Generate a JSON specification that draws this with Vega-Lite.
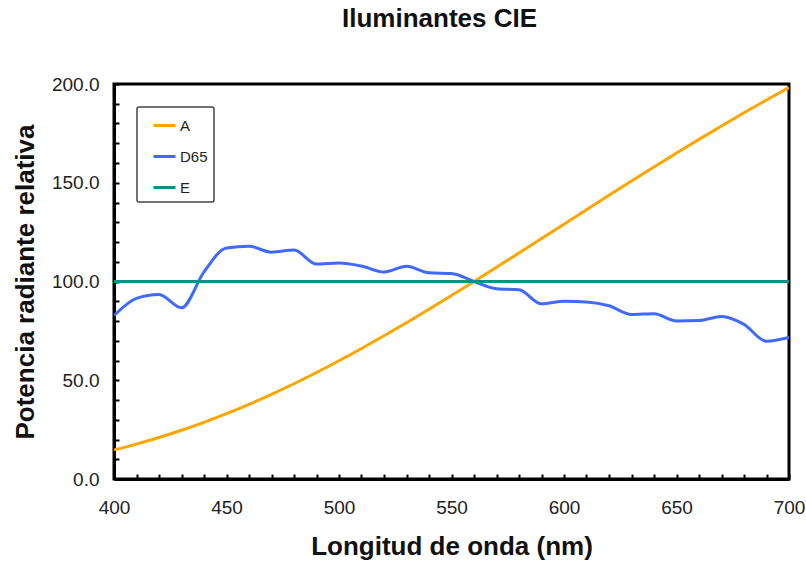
{
  "$schema": "https://vega.github.io/schema/vega-lite/v6.json",
  "autosize": "none",
  "width": 675,
  "height": 395,
  "padding": {"left": 114, "top": 84, "right": 17, "bottom": 84},
  "background": "white",
  "config": {
    "font": "Liberation Sans",
    "view": {"stroke": "black", "strokeWidth": 3},
    "legend": {"strokeColor": "#444", "strokeWidth": 1.5, "cornerRadius": 2, "fillColor": "white"}
  },
  "title": {
    "text": "Iluminantes CIE",
    "font": "Liberation Sans",
    "fontSize": 26,
    "fontWeight": "bold",
    "color": "#111",
    "anchor": "middle",
    "dx": -12,
    "offset": 43
  },
  "data": {
    "values": [
      {"wl": 400, "ilum": "A", "v": 14.71}, {"wl": 410, "ilum": "A", "v": 17.68}, {"wl": 420, "ilum": "A", "v": 20.99},
      {"wl": 430, "ilum": "A", "v": 24.67}, {"wl": 440, "ilum": "A", "v": 28.70}, {"wl": 450, "ilum": "A", "v": 33.09},
      {"wl": 460, "ilum": "A", "v": 37.81}, {"wl": 470, "ilum": "A", "v": 42.87}, {"wl": 480, "ilum": "A", "v": 48.24},
      {"wl": 490, "ilum": "A", "v": 53.91}, {"wl": 500, "ilum": "A", "v": 59.86}, {"wl": 510, "ilum": "A", "v": 66.06},
      {"wl": 520, "ilum": "A", "v": 72.50}, {"wl": 530, "ilum": "A", "v": 79.13}, {"wl": 540, "ilum": "A", "v": 85.95},
      {"wl": 550, "ilum": "A", "v": 92.91}, {"wl": 560, "ilum": "A", "v": 100.00}, {"wl": 570, "ilum": "A", "v": 107.18},
      {"wl": 580, "ilum": "A", "v": 114.44}, {"wl": 590, "ilum": "A", "v": 121.73}, {"wl": 600, "ilum": "A", "v": 129.04},
      {"wl": 610, "ilum": "A", "v": 136.35}, {"wl": 620, "ilum": "A", "v": 143.62}, {"wl": 630, "ilum": "A", "v": 150.84},
      {"wl": 640, "ilum": "A", "v": 157.98}, {"wl": 650, "ilum": "A", "v": 165.03}, {"wl": 660, "ilum": "A", "v": 171.96},
      {"wl": 670, "ilum": "A", "v": 178.77}, {"wl": 680, "ilum": "A", "v": 185.43}, {"wl": 690, "ilum": "A", "v": 191.93},
      {"wl": 700, "ilum": "A", "v": 198.26},
      {"wl": 400, "ilum": "D65", "v": 82.75}, {"wl": 410, "ilum": "D65", "v": 91.49}, {"wl": 420, "ilum": "D65", "v": 93.43},
      {"wl": 430, "ilum": "D65", "v": 86.68}, {"wl": 440, "ilum": "D65", "v": 104.86}, {"wl": 450, "ilum": "D65", "v": 117.01},
      {"wl": 460, "ilum": "D65", "v": 117.81}, {"wl": 470, "ilum": "D65", "v": 114.86}, {"wl": 480, "ilum": "D65", "v": 115.92},
      {"wl": 490, "ilum": "D65", "v": 108.81}, {"wl": 500, "ilum": "D65", "v": 109.35}, {"wl": 510, "ilum": "D65", "v": 107.80},
      {"wl": 520, "ilum": "D65", "v": 104.79}, {"wl": 530, "ilum": "D65", "v": 107.69}, {"wl": 540, "ilum": "D65", "v": 104.41},
      {"wl": 550, "ilum": "D65", "v": 104.05}, {"wl": 560, "ilum": "D65", "v": 100.00}, {"wl": 570, "ilum": "D65", "v": 96.33},
      {"wl": 580, "ilum": "D65", "v": 95.79}, {"wl": 590, "ilum": "D65", "v": 88.69}, {"wl": 600, "ilum": "D65", "v": 90.01},
      {"wl": 610, "ilum": "D65", "v": 89.60}, {"wl": 620, "ilum": "D65", "v": 87.70}, {"wl": 630, "ilum": "D65", "v": 83.29},
      {"wl": 640, "ilum": "D65", "v": 83.70}, {"wl": 650, "ilum": "D65", "v": 80.03}, {"wl": 660, "ilum": "D65", "v": 80.21},
      {"wl": 670, "ilum": "D65", "v": 82.28}, {"wl": 680, "ilum": "D65", "v": 78.28}, {"wl": 690, "ilum": "D65", "v": 69.72},
      {"wl": 700, "ilum": "D65", "v": 71.61},
      {"wl": 400, "ilum": "E", "v": 100}, {"wl": 450, "ilum": "E", "v": 100}, {"wl": 500, "ilum": "E", "v": 100},
      {"wl": 550, "ilum": "E", "v": 100}, {"wl": 600, "ilum": "E", "v": 100}, {"wl": 650, "ilum": "E", "v": 100},
      {"wl": 700, "ilum": "E", "v": 100}
    ]
  },
  "mark": {"type": "line", "strokeWidth": 3, "clip": true, "interpolate": "monotone"},
  "encoding": {
    "x": {
      "field": "wl",
      "type": "quantitative",
      "scale": {"domain": [400, 700], "nice": false, "zero": false},
      "axis": {
        "title": "Longitud de onda (nm)",
        "values": [400,410,420,430,440,450,460,470,480,490,500,510,520,530,540,550,560,570,580,590,600,610,620,630,640,650,660,670,680,690,700],
        "labelExpr": "datum.value % 50 == 0 ? format(datum.value, 'd') : ''",
        "labelOverlap": false,
        "labelFlush": false,
        "grid": false,
        "tickSize": -5,
        "tickWidth": 2,
        "tickColor": "black",
        "domainColor": "black",
        "domainWidth": 3,
        "labelPadding": 24,
        "labelFont": "Liberation Sans",
        "labelFontSize": 19,
        "labelColor": "#222",
        "titleFont": "Liberation Sans",
        "titleFontSize": 26,
        "titleFontWeight": "bold",
        "titleColor": "#111",
        "titlePadding": 16
      }
    },
    "y": {
      "field": "v",
      "type": "quantitative",
      "scale": {"domain": [0, 200], "nice": false},
      "axis": {
        "title": "Potencia radiante relativa",
        "values": [0,10,20,30,40,50,60,70,80,90,100,110,120,130,140,150,160,170,180,190,200],
        "labelExpr": "datum.value % 50 == 0 ? format(datum.value, '.1f') : ''",
        "labelOverlap": false,
        "labelFlush": false,
        "grid": false,
        "tickSize": -5,
        "tickWidth": 2,
        "tickColor": "black",
        "domainColor": "black",
        "domainWidth": 3,
        "labelPadding": 20,
        "labelFont": "Liberation Sans",
        "labelFontSize": 19,
        "labelColor": "#222",
        "titleFont": "Liberation Sans",
        "titleFontSize": 26,
        "titleFontWeight": "bold",
        "titleColor": "#111",
        "titlePadding": 13
      }
    },
    "color": {
      "field": "ilum",
      "type": "nominal",
      "scale": {"domain": ["A", "D65", "E"], "range": ["#FFA500", "#4169FF", "#168C84"]},
      "legend": {
        "title": null,
        "orient": "none",
        "legendX": 23,
        "legendY": 23,
        "symbolType": "stroke",
        "symbolSize": 484,
        "symbolStrokeWidth": 3,
        "symbolOffset": 9,
        "labelFont": "Liberation Sans",
        "labelFontSize": 15,
        "labelColor": "#222",
        "labelOffset": 3,
        "labelExpr": "datum.label + '      '",
        "rowPadding": 10,
        "padding": 6
      }
    }
  }
}
